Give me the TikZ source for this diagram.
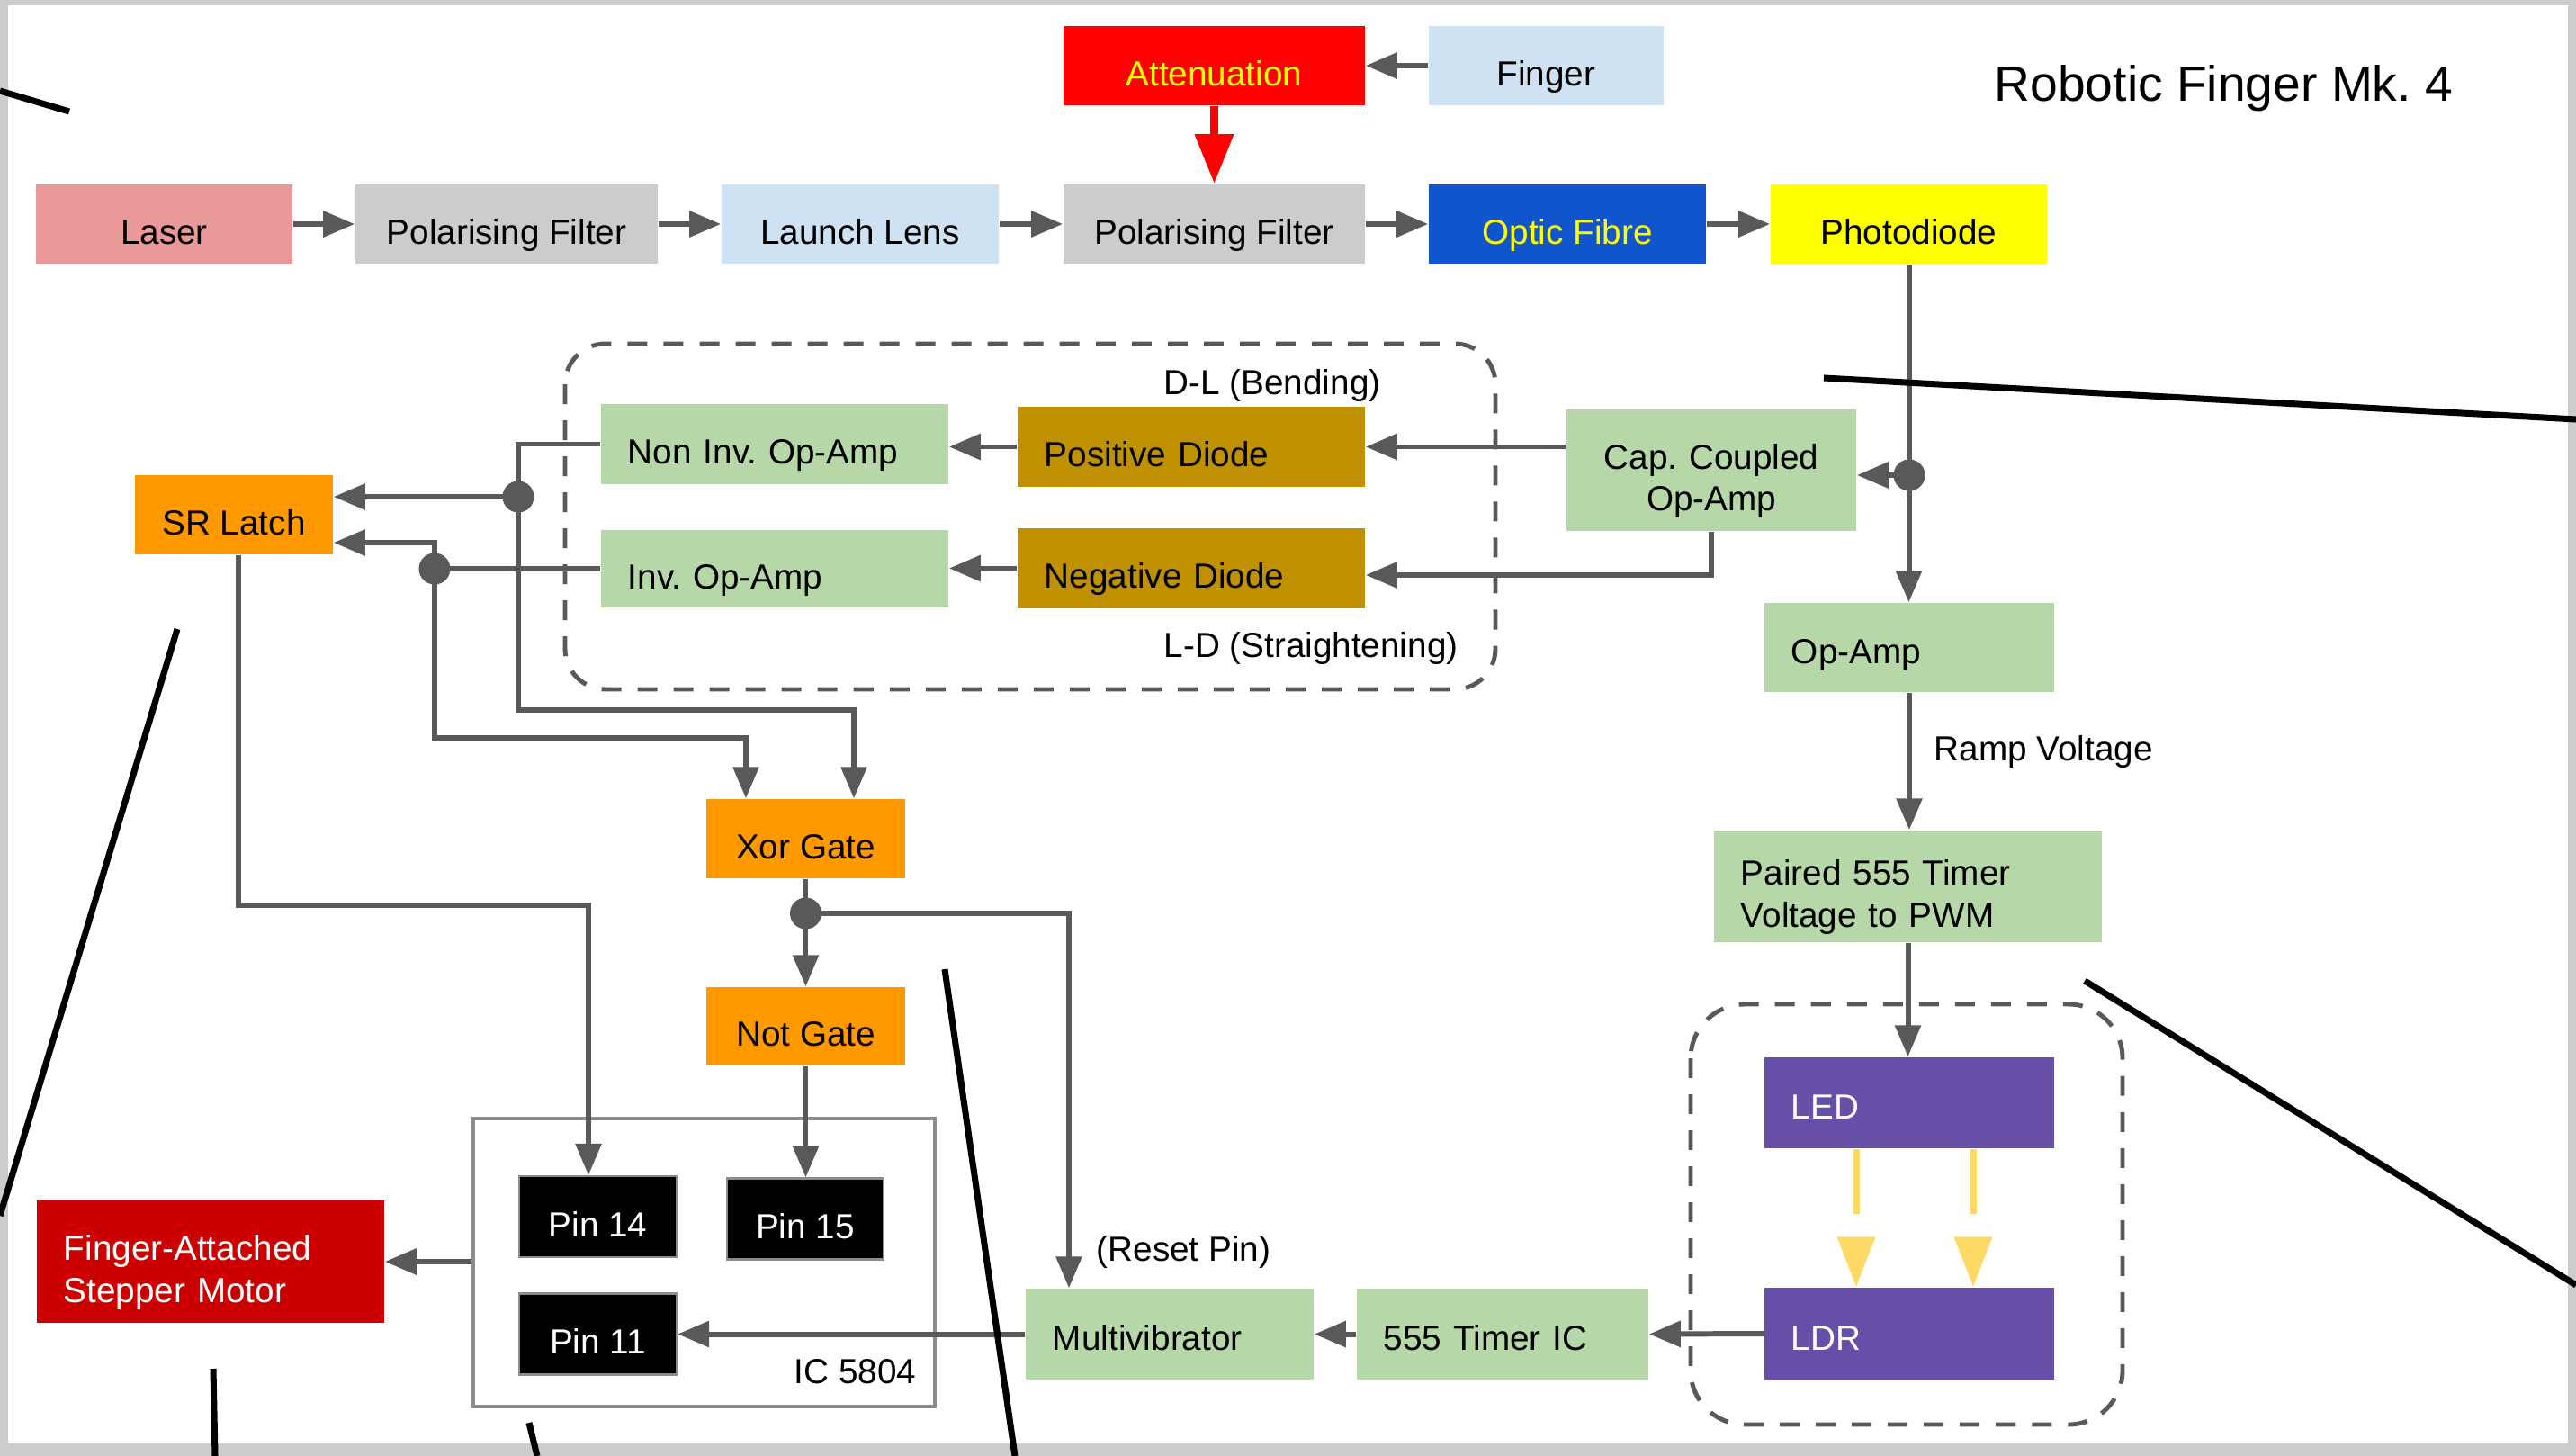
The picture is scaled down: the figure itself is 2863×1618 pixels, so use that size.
\documentclass[tikz,border=0pt]{standalone}
\usepackage{fontspec}
\setmainfont{Liberation Sans}
\usepackage{xcolor}
\usetikzlibrary{arrows.meta}
\definecolor{lnk}{HTML}{595959}
\definecolor{framegray}{HTML}{CCCCCC}
\definecolor{laserred}{HTML}{EA9999}
\definecolor{filtergray}{HTML}{CCCCCC}
\definecolor{paleblue}{HTML}{CFE2F3}
\definecolor{attred}{HTML}{FF0000}
\definecolor{fibreblue}{HTML}{1155CC}
\definecolor{yel}{HTML}{FFFF00}
\definecolor{opgreen}{HTML}{B6D7A8}
\definecolor{diodegold}{HTML}{BF9000}
\definecolor{logicorange}{HTML}{FF9900}
\definecolor{motorred}{HTML}{CC0000}
\definecolor{ledpurple}{HTML}{674EA7}
\definecolor{lightyel}{HTML}{FFD966}
\definecolor{icgray}{HTML}{8C8C8C}

\begin{document}
\begin{tikzpicture}[
  x=0.01cm, y=-0.01cm,
  font=\fontsize{11pt}{13.2pt}\selectfont\frenchspacing,
  blk/.style={rectangle, inner xsep=0.3cm, inner ysep=0pt, minimum height=0.88cm, text height=0.44cm, text depth=0pt, align=center},
  two/.style={text depth=13.2pt},
  tall/.style={text height=0.36cm},
  lft/.style={text width=#1, align=left},
  pinbox/.style={blk, fill=black, text=white, draw=black!45, line width=0.6pt, minimum height=0.9cm},
  dot/.style={circle, fill=lnk, minimum size=0.35cm, inner sep=0pt},
  lbl/.style={anchor=base west, inner sep=0pt},
  arr/.style={-{Triangle[length=0.35cm, width=0.28cm]}, line width=1.7pt, draw=lnk},
  wire/.style={line width=1.7pt, draw=lnk},
  redarr/.style={-{Triangle[length=0.55cm, width=0.41cm]}, line width=2.8pt, draw=attred},
  lightarr/.style={-{Triangle[length=0.56cm, width=0.41cm]}, line width=2pt, draw=lightyel, dash pattern=on 0.72cm off 3cm},
  grp/.style={draw=lnk, line width=1.4pt, dash pattern=on 0.22cm off 0.18cm, rounded corners=0.45cm},
  stray/.style={line width=2pt, black}
]
\useasboundingbox (0,0) rectangle (2863,1618);
\fill[framegray] (0,0) rectangle (2863,1618);
\fill[white] (9,6) rectangle (2854,1604);

\draw[grp] (628,382) rectangle (1662,766);
\draw[grp, rounded corners=0.6cm] (1879,1116) rectangle (2359,1583);

\node[blk, fill=laserred, minimum width=2.85cm] (laser) at (182.5,249) {Laser};
\node[blk, fill=filtergray, minimum width=3.36cm] (pfa) at (563,249) {Polarising Filter};
\node[blk, fill=paleblue, minimum width=3.08cm] (lens) at (956,249) {Launch Lens};
\node[blk, fill=filtergray, minimum width=3.35cm] (pfb) at (1349.5,249) {Polarising Filter};
\node[blk, fill=fibreblue, text=yel, minimum width=3.08cm] (fibre) at (1742,249) {Optic Fibre};
\node[blk, fill=yel, minimum width=3.07cm] (photo) at (2121.5,249) {Photodiode};
\node[blk, fill=attred, text=yel, minimum width=3.35cm] (atten) at (1349.5,73) {Attenuation};
\node[blk, fill=paleblue, minimum width=2.61cm] (finger) at (1718.5,73) {Finger};
\node[lbl, font=\fontsize{15.7pt}{18pt}\selectfont\frenchspacing] (title) at (2216,112) {Robotic Finger Mk. 4};

\node[blk, lft=3.26cm, fill=opgreen] (noninv) at (861,493.5) {Non Inv. Op-Amp};
\node[blk, lft=3.26cm, fill=opgreen, minimum height=0.86cm] (inv) at (861,632) {Inv. Op-Amp};
\node[blk, lft=3.26cm, fill=diodegold] (posd) at (1324,496.5) {Positive Diode};
\node[blk, lft=3.26cm, fill=diodegold] (negd) at (1324,631.5) {Negative Diode};
\node[blk, two, text width=2.62cm, fill=opgreen, minimum height=1.35cm] (cap) at (1902,522.5) {Cap. Coupled\\Op-Amp};
\node[lbl] (bend) at (1293,438) {D-L (Bending)};
\node[lbl] (strt) at (1293,730) {L-D (Straightening)};
\node[blk, fill=logicorange, minimum width=2.2cm] (srl) at (260,572) {SR Latch};

\node[blk, tall, lft=2.62cm, fill=opgreen, minimum height=0.99cm] (opamp) at (2122,719.5) {Op-Amp};
\node[lbl] (ramp) at (2149,845) {Ramp Voltage};
\node[blk, two, lft=3.71cm, fill=opgreen, minimum height=1.24cm] (paired) at (2120.5,985) {Paired 555 Timer\\Voltage to PWM};
\node[blk, tall, lft=2.62cm, fill=ledpurple, text=white, minimum height=1.01cm] (led) at (2122,1225.5) {LED};
\node[blk, tall, lft=2.62cm, fill=ledpurple, text=white, minimum height=1.02cm] (ldr) at (2122,1482) {LDR};

\node[blk, fill=logicorange, minimum width=2.21cm] (xor) at (895.5,932) {Xor Gate};
\node[blk, fill=logicorange, minimum width=2.21cm, minimum height=0.87cm] (notg) at (895.5,1140.5) {Not Gate};
\node[blk, tall, lft=2.6cm, fill=opgreen, minimum height=1.01cm] (multi) at (1300,1482.5) {Multivibrator};
\node[blk, tall, lft=2.64cm, fill=opgreen, minimum height=1.01cm] (timer) at (1670,1482.5) {555 Timer IC};
\node[lbl] (reset) at (1218,1401) {(Reset Pin)};

\node[draw=icgray, line width=1.1pt, minimum width=5.13cm, minimum height=3.2cm] (ic) at (782.5,1403) {};
\node[pinbox, minimum width=1.75cm] (pin14) at (664.5,1352) {Pin 14};
\node[pinbox, minimum width=1.74cm] (pin15) at (895,1354.5) {Pin 15};
\node[pinbox, minimum width=1.75cm] (pin11) at (664.5,1482.5) {Pin 11};
\node[anchor=base east, inner sep=0pt] (icname) at (1019,1537) {IC 5804};
\node[blk, two, lft=3.26cm, fill=motorred, text=white, minimum height=1.36cm] (motor) at (234,1402) {Finger-Attached\\Stepper Motor};

\node[dot] (d0) at (2122,528) {};
\node[dot] (d1) at (576,552) {};
\node[dot] (d2) at (483,632) {};
\node[dot] (d3) at (895.5,1015) {};

\draw[arr] (laser) -- (pfa);
\draw[arr] (pfa) -- (lens);
\draw[arr] (lens) -- (pfb);
\draw[arr] (pfb) -- (fibre);
\draw[arr] (fibre) -- (photo);
\draw[arr] (finger) -- (atten);
\draw[redarr] (atten.south) -- (pfb.north);

\draw[arr] (photo.south) -- (photo.south |- opamp.north);
\draw[arr] (d0.center) -- (d0 -| cap.east);
\draw[arr] (cap.west |- posd.east) -- (posd.east);
\draw[arr] (cap.south) |- (negd.east |- 0,639);
\draw[arr] (posd.west) -- (posd.west -| noninv.east);
\draw[arr] (negd.west) -- (negd.west -| inv.east);

\draw[arr] (noninv.west) -| (d1.center) |- (949,789) -- (xor.north -| 949,0);
\draw[arr] (d1.center) -- (d1 -| srl.east);
\draw[wire] (inv.west) -- (d2.center);
\draw[arr] (d2.center) |- (srl.east |- 0,603);
\draw[arr] (d2.center) |- (829,820) -- (xor.north -| 829,0);
\draw[arr] (srl.south -| 265,0) |- (654,1006) -- (pin14.north -| 654,0);

\draw[wire] (xor.south) -- (d3.center);
\draw[arr] (d3.center) -- (notg.north);
\draw[arr] (d3.center) -| (multi.north -| 1188,0);
\draw[arr] (notg.south) -- (notg.south |- pin15.north);
\draw[arr] (multi.west) -- (pin11.east);
\draw[arr] (timer.west) -- (multi.east);
\draw[arr] (ldr.west) -- (timer.east);
\draw[arr] (ic.west |- motor.east) -- (motor.east);

\draw[arr] (opamp.south) -- (opamp.south |- paired.north);
\draw[arr] (paired.south) -- (paired.south |- led.north);
\draw[lightarr] (led.south -| 2063,0) -- (ldr.north -| 2063,0);
\draw[lightarr] (led.south -| 2193,0) -- (ldr.north -| 2193,0);

\draw[stray] (0,101) -- (77,124);
\draw[stray] (2027,420) -- (2863,466);
\draw[stray] (197,699) -- (0,1351);
\draw[stray] (237,1521) -- (239,1618);
\draw[stray] (588,1581) -- (597,1618);
\draw[stray] (1050,1077) -- (1128,1618);
\draw[stray] (2317,1090) -- (2863,1428);
\end{tikzpicture}
\end{document}
